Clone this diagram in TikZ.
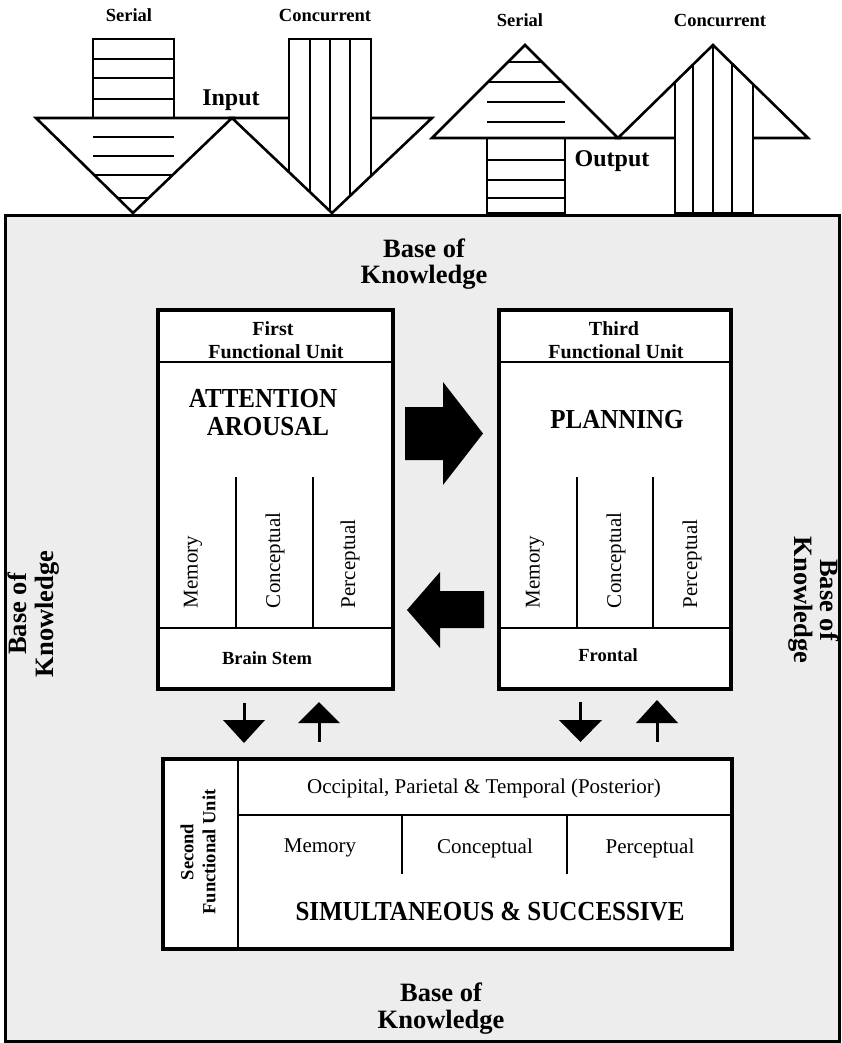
\documentclass[tikz,border=0pt]{standalone}
\usepackage{fontspec}
\usepackage{graphicx}
\setmainfont{Liberation Serif}
\newcommand\fs[2]{\fontsize{#1pt}{#2pt}\selectfont}
\newcommand\tallcaps[1]{\scalebox{1}[1.1]{#1}}
\begin{document}
\begin{tikzpicture}[x=1pt,y=-1pt,
  shp/.style={line width=2.6pt, line join=miter},
  divline/.style={line width=2.6pt},
  unitbox/.style={draw, line width=4pt, fill=white, inner sep=0pt, anchor=north west},
  txt/.style={inner sep=0pt, outer sep=0pt},
  toplbl/.style={txt, anchor=base, font=\fs{18.5}{20}\bfseries},
  iolbl/.style={txt, anchor=base, font=\fs{24}{26}\bfseries},
  kbl/.style={txt, anchor=base, font=\fs{26.5}{28}\bfseries},
  hdr/.style={txt, anchor=base, font=\fs{20}{22}\bfseries},
  bigtxt/.style={txt, anchor=base, font=\fs{25}{28}\bfseries},
  rot/.style={txt, rotate=90, anchor=west, font=\fs{21}{23}},
  reg/.style={txt, font=\fs{21}{23}},
  foot/.style={txt, font=\fs{18.5}{20}\bfseries},
  stem/.style={line width=3pt}
]
\useasboundingbox (0,0) rectangle (841,1043);

% ---------- base of knowledge background ----------
\node[draw, line width=3pt, fill=black!7, minimum width=834pt, minimum height=826pt,
      inner sep=0pt, anchor=north west] (kb) at (4,214) {};

% ---------- INPUT: serial ----------
\draw[shp] (36,118) -- (232,118) -- (133,213) -- cycle;
\draw[shp] (93,118) rectangle (174,39);
\foreach \y in {59,78,99,137,156} \draw[shp] (93,\y) -- (174,\y);
\draw[shp] (94.2,175) -- (172.6,175);
\draw[shp] (117.7,198) -- (148.6,198);

% ---------- INPUT: concurrent ----------
\draw[shp] (289,118) -- (232,118) -- (332,213) -- (432,118) -- (371,118);
\draw[shp] (289,172.2) -- (289,39) -- (371,39) -- (371,176);
\draw[shp] (310,39) -- (310,192.1);
\draw[shp] (330,39) -- (330,211.1);
\draw[shp] (350,39) -- (350,195.9);

% ---------- OUTPUT: serial ----------
\draw[shp] (432,138) -- (525,45) -- (618,138) -- cycle;
\draw[shp] (508,62) -- (542,62);
\draw[shp] (488,82) -- (562,82);
\foreach \y in {102,122,160,180,198} \draw[shp] (487,\y) -- (565,\y);
\draw[shp] (487,138) rectangle (565,213);

% ---------- OUTPUT: concurrent ----------
\draw[shp] (675,138) -- (618,138) -- (713,45) -- (808,138) -- (753,138);
\draw[shp] (675,82.2) -- (675,213) -- (753,213) -- (753,84.2);
\draw[shp] (693,64.6) -- (693,213);
\draw[shp] (713,45) -- (713,213);
\draw[shp] (732,63.6) -- (732,213);

% ---------- top labels ----------
\node[toplbl] (lserin) at (129,22) {Serial};
\node[toplbl] (lconin) at (325,22) {Concurrent};
\node[toplbl] (lserout) at (520,27) {Serial};
\node[toplbl] (lconout) at (720,27) {Concurrent};
\node[iolbl] (lin) at (231,106) {Input};
\node[iolbl] (lout) at (612,167) {Output};

% ---------- Base of Knowledge labels ----------
\node[kbl] (kbtop1) at (424,257) {Base of};
\node[kbl] (kbtop2) at (424,283) {Knowledge};
\node[kbl] (kbbot1) at (441,1001) {Base of};
\node[kbl] (kbbot2) at (441,1028) {Knowledge};
\node[kbl, rotate=90] (kbleft1) at (27,614) {Base of};
\node[kbl, rotate=90] (kbleft2) at (53,614) {Knowledge};
\node[kbl, rotate=-90] (kbright1) at (820,600) {Base of};
\node[kbl, rotate=-90] (kbright2) at (794,600) {Knowledge};

% ---------- First functional unit ----------
\node[unitbox, minimum width=235pt, minimum height=379pt] (u1) at (156,308) {};
\draw[divline] (156,362) -- (391,362);
\draw[divline] (156,628) -- (391,628);
\draw[divline] (236,477) -- (236,628);
\draw[divline] (313,477) -- (313,628);
\node[hdr] (u1h1) at (273,335) {First};
\node[hdr] (u1h2) at (276,358) {Functional Unit};
\node[bigtxt] (u1t1) at (263,407) {\tallcaps{ATTENTION}};
\node[bigtxt] (u1t2) at (268,435) {\tallcaps{AROUSAL}};
\node[rot] (u1m) at (193,608) {Memory};
\node[rot] (u1c) at (275,608) {Conceptual};
\node[rot] (u1p) at (350,608) {Perceptual};
\node[foot] (u1f) at (267,658) {Brain Stem};

% ---------- Third functional unit ----------
\node[unitbox, minimum width=232pt, minimum height=379pt] (u3) at (497,308) {};
\draw[divline] (497,362) -- (729,362);
\draw[divline] (497,628) -- (729,628);
\draw[divline] (577,477) -- (577,628);
\draw[divline] (653,477) -- (653,628);
\node[hdr] (u3h1) at (614,335) {Third};
\node[hdr] (u3h2) at (616,358) {Functional Unit};
\node[bigtxt] (u3t) at (617,428) {\tallcaps{PLANNING}};
\node[rot] (u3m) at (535,608) {Memory};
\node[rot] (u3c) at (616,608) {Conceptual};
\node[rot] (u3p) at (692,608) {Perceptual};
\node[foot] (u3f) at (608,655) {Frontal};

% ---------- big arrows between units ----------
\fill (405,407) -- (443,407) -- (443,382) -- (483,433.5) -- (443,485) -- (443,460) -- (405,460) -- cycle;
\fill (407,610) -- (440,572) -- (440,591) -- (484,591) -- (484,628) -- (440,628) -- (440,648) -- cycle;

% ---------- small arrows ----------
\draw[stem] (244,703) -- (244,721);
\fill (223,720) -- (265,720) -- (244,743) -- cycle;
\fill (298,723) -- (340,723) -- (319,702) -- cycle;
\draw[stem] (319,722) -- (319,742);
\draw[stem] (580.5,702) -- (580.5,721);
\fill (559,720) -- (602,720) -- (580.5,742) -- cycle;
\fill (636,723) -- (678,723) -- (657,700) -- cycle;
\draw[stem] (657,722) -- (657,742);

% ---------- Second functional unit ----------
\node[unitbox, minimum width=569pt, minimum height=190pt] (u2) at (161,757) {};
\draw[divline] (238,757) -- (238,947);
\draw[divline] (238,815) -- (730,815);
\draw[divline] (402,815) -- (402,874);
\draw[divline] (567,815) -- (567,874);
\node[foot, rotate=90, align=center, font=\fs{18.5}{22}\bfseries] (u2h) at (198,852) {Second\\Functional Unit};
\node[reg] (u2loc) at (484,788) {Occipital, Parietal \& Temporal (Posterior)};
\node[reg] (u2m) at (320,848) {Memory};
\node[reg] (u2c) at (485,848) {Conceptual};
\node[reg] (u2p) at (650,848) {Perceptual};
\node[bigtxt] (u2t) at (490,920) {\tallcaps{SIMULTANEOUS \& SUCCESSIVE}};
\end{tikzpicture}
\end{document}
